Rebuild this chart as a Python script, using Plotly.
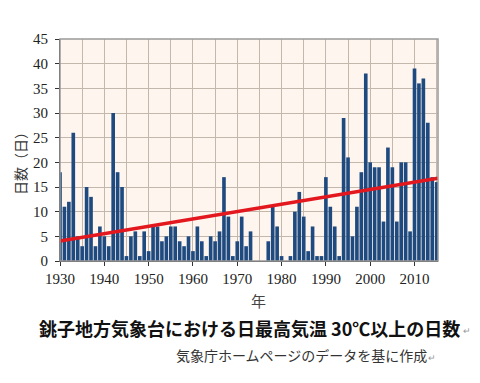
import numpy as np
import plotly.graph_objects as go

years = list(range(1930, 2016))
days = [18, 11, 12, 26, 5, 3, 15, 13, 3, 7,
        5, 3, 30, 18, 15, 1, 5, 6, 1, 6,
        2, 7, 7, 4, 5, 7, 7, 4, 3, 5,
        2, 7, 4, 1, 5, 4, 6, 17, 9, 1,
        4, 9, 3, 6, 0, 0, 0, 4, 11, 7,
        1, 0, 1, 10, 14, 9, 2, 7, 1, 1,
        17, 11, 7, 1, 29, 21, 5, 11, 18, 38,
        20, 19, 19, 8, 23, 19, 8, 20, 20, 6,
        39, 36, 37, 28, 17, 16]
x_ticks = list(range(1930, 2011, 10))
y_ticks = list(range(0, 46, 5))

# linear trend through the data
coef = np.polyfit(years, days, 1)
trend_x = [1930, 2015.3]
trend_y = [float(np.polyval(coef, v)) for v in trend_x]

# page has an 8px body margin; figure sized to fit the window
OFF = 8
W, H = 472, 375
L, R, T, B = 60 - OFF, 42, 39 - OFF, 122

fig = go.Figure()
fig.add_trace(go.Bar(
    x=years, y=days, width=0.82,
    marker=dict(color="#1F4A7F", line=dict(width=0)),
    showlegend=False, hoverinfo="x+y"))
fig.add_trace(go.Scatter(
    x=trend_x, y=trend_y, mode="lines",
    line=dict(color="#E3171E", width=3.5), showlegend=False))

tickfont = dict(family="Liberation Serif", size=15, color="#222")
fig.update_layout(
    width=W, height=H,
    margin=dict(l=L, r=R, t=T, b=B),
    paper_bgcolor="white", plot_bgcolor="#FDF5EE",
    xaxis=dict(range=[1930, 2015.3], tickvals=x_ticks, ticktext=[str(v) for v in x_ticks],
               showgrid=True, gridcolor="#C4B8AC", gridwidth=1,
               minor=dict(dtick=5, tick0=1930, showgrid=True, gridcolor="#C4B8AC", gridwidth=1),
               ticks="outside", ticklen=4, tickcolor="#333",
               showline=True, linecolor="#333", linewidth=1, mirror=False,
               tickfont=tickfont, zeroline=False),
    yaxis=dict(range=[0, 45], tickvals=y_ticks,
               showgrid=True, gridcolor="#C4B8AC", gridwidth=1,
               ticks="outside", ticklen=4, tickcolor="#333",
               showline=True, linecolor="#333", linewidth=1,
               tickfont=tickfont, zeroline=False, ticklabelstandoff=4),
    shapes=[dict(type="rect", xref="paper", yref="paper", x0=0, x1=1, y0=0, y1=1,
                 line=dict(color="#9A9A9A", width=1.5), fillcolor="rgba(0,0,0,0)", layer="above")],
)

jp = "Noto Sans CJK JP"
# positions below are given in window pixels
fig.add_annotation(text="日数（日）", textangle=-90, x=20, y=160,
                   showarrow=False, font=dict(family=jp, size=14, color="#333"))
fig.add_annotation(text="年", x=258, y=300, showarrow=False, font=dict(family=jp, size=15, color="#444"))
fig.add_annotation(text="<b>銚子地方気象台における日最高気温 30℃以上の日数</b>", x=249, y=328,
                   showarrow=False, font=dict(family=jp, size=18, color="#111"))
fig.add_annotation(text="↵", x=467, y=330, showarrow=False, font=dict(family=jp, size=9, color="#999"))
fig.add_annotation(text="気象庁ホームページのデータを基に作成", x=301, y=355,
                   showarrow=False, font=dict(family=jp, size=14, color="#333"))
fig.add_annotation(text="↵", x=432, y=357, showarrow=False, font=dict(family=jp, size=9, color="#999"))

pw, ph = W - L - R, H - T - B
for a in fig.layout.annotations:
    a.xref = "paper"; a.yref = "paper"
    a.x = (a.x - OFF - L) / pw
    a.y = (H - B - (a.y - OFF)) / ph
    a.xanchor = "center"; a.yanchor = "middle"

fig.write_html("out.html")
